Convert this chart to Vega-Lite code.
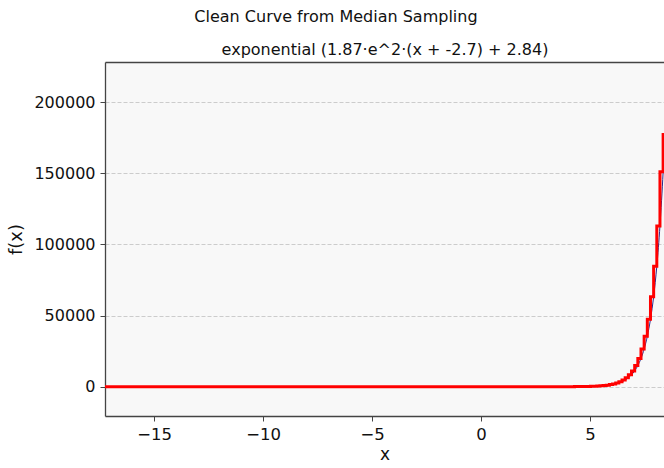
{
  "$schema": "https://vega.github.io/schema/vega-lite/v6.json",
  "width": 559,
  "height": 354,
  "autosize": "none",
  "padding": {"left": 105, "top": 62, "right": 0, "bottom": 52},
  "background": "white",
  "config": {
    "font": "DejaVu Sans",
    "view": {"fill": "#f8f8f8", "stroke": null}
  },
  "title": {
    "text": "Clean Curve from Median Sampling",
    "font": "DejaVu Sans",
    "fontSize": 16,
    "fontWeight": "normal",
    "color": "#111111",
    "anchor": "middle",
    "frame": "bounds",
    "offset": 16
  },
  "data": {
    "values": [
      {"x": -17.3, "y": 2.84}, {"x": -16, "y": 2.84}, {"x": -15, "y": 2.84}, {"x": -14, "y": 2.84},
      {"x": -13, "y": 2.84}, {"x": -12, "y": 2.84}, {"x": -11, "y": 2.84}, {"x": -10, "y": 2.84},
      {"x": -9, "y": 2.84}, {"x": -8, "y": 2.84}, {"x": -7, "y": 2.84}, {"x": -6, "y": 2.84},
      {"x": -5, "y": 2.84}, {"x": -4, "y": 2.84}, {"x": -3, "y": 2.84}, {"x": -2, "y": 2.84},
      {"x": -1, "y": 2.84}, {"x": 0, "y": 2.84}, {"x": 1, "y": 2.9}, {"x": 2, "y": 3.3},
      {"x": 2.5, "y": 4.1}, {"x": 3.0, "y": 6.2}, {"x": 3.13, "y": 7.3}, {"x": 3.275, "y": 8.7},
      {"x": 3.42, "y": 10.7}, {"x": 3.565, "y": 13.4}, {"x": 3.71, "y": 16.9}, {"x": 3.855, "y": 21.7},
      {"x": 4.0, "y": 28.0}, {"x": 4.145, "y": 36.5}, {"x": 4.29, "y": 47.8}, {"x": 4.435, "y": 62.9},
      {"x": 4.58, "y": 83.2}, {"x": 4.725, "y": 110.2}, {"x": 4.87, "y": 146.3}, {"x": 5.015, "y": 194.5},
      {"x": 5.16, "y": 259.0}, {"x": 5.305, "y": 345.2}, {"x": 5.45, "y": 460.4}, {"x": 5.595, "y": 614.5},
      {"x": 5.74, "y": 820.2}, {"x": 5.885, "y": 1095.1}, {"x": 6.03, "y": 1462.5}, {"x": 6.175, "y": 1953.6},
      {"x": 6.32, "y": 2610.0}, {"x": 6.465, "y": 3487.0}, {"x": 6.61, "y": 4659.1}, {"x": 6.755, "y": 6225.4},
      {"x": 6.9, "y": 8318.9}, {"x": 7.045, "y": 11117.0}, {"x": 7.19, "y": 14856.2}, {"x": 7.335, "y": 19853},
      {"x": 7.48, "y": 26531}, {"x": 7.625, "y": 35456}, {"x": 7.77, "y": 47383}, {"x": 7.915, "y": 63323},
      {"x": 8.06, "y": 84624}, {"x": 8.205, "y": 113093}, {"x": 8.35, "y": 151138}, {"x": 8.43, "y": 177363}
    ]
  },
  "resolve": {"axis": {"x": "independent"}},
  "layer": [
    {
      "mark": {"type": "line", "color": "#2a2a8a", "strokeWidth": 1, "clip": true, "interpolate": "monotone"},
      "encoding": {
        "x": {
          "field": "x", "type": "quantitative",
          "scale": {"domain": [-17.25, 8.39], "nice": false, "zero": false},
          "axis": {
            "orient": "top",
            "title": "exponential (1.87·e^2·(x + -2.7) + 2.84)",
            "labels": false, "ticks": false, "grid": false,
            "domain": true, "domainColor": "#444444", "domainWidth": 1.3,
            "titleFont": "DejaVu Sans", "titleFontSize": 16, "titleFontWeight": "normal",
            "titleColor": "#111111", "titlePadding": 5
          }
        },
        "y": {
          "field": "y", "type": "quantitative",
          "scale": {"domain": [-20605, 228340], "nice": false, "zero": false},
          "axis": {
            "orient": "left",
            "values": [0, 50000, 100000, 150000, 200000],
            "format": "d",
            "grid": true, "gridColor": "#cccccc", "gridDash": [4, 2], "gridWidth": 1,
            "domain": true, "domainColor": "#444444", "domainWidth": 1.3,
            "ticks": true, "tickSize": 5, "tickColor": "#444444", "tickWidth": 1,
            "labelFont": "DejaVu Sans", "labelFontSize": 16, "labelColor": "#111111", "labelPadding": 5,
            "title": "f(x)",
            "titleFont": "DejaVu Sans", "titleFontSize": 18, "titleFontWeight": "normal",
            "titleColor": "#111111", "titlePadding": 8
          }
        }
      }
    },
    {
      "mark": {"type": "line", "color": "#ff0000", "strokeWidth": 3, "clip": true, "interpolate": "step-before"},
      "encoding": {
        "x": {
          "field": "x", "type": "quantitative",
          "axis": {
            "orient": "bottom",
            "values": [-15, -10, -5, 0, 5],
            "grid": false,
            "domain": true, "domainColor": "#444444", "domainWidth": 1.3,
            "ticks": true, "tickSize": 5, "tickColor": "#444444", "tickWidth": 1,
            "labelFont": "DejaVu Sans", "labelFontSize": 16.5, "labelColor": "#111111", "labelPadding": 5,
            "title": "x",
            "titleFont": "DejaVu Sans", "titleFontSize": 17, "titleFontWeight": "normal",
            "titleColor": "#111111", "titlePadding": 4
          }
        },
        "y": {"field": "y", "type": "quantitative"}
      }
    }
  ]
}
